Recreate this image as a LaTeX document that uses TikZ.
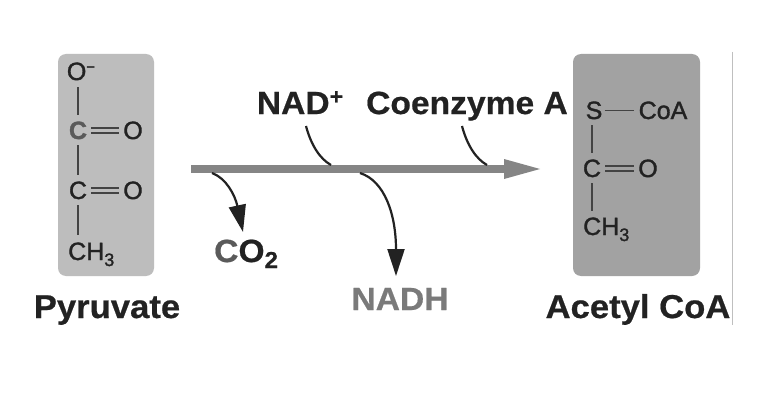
\documentclass[tikz,border=0pt]{standalone}
\usepackage{fontspec}
\setmainfont{Liberation Sans}
\newfontfamily\widebold[FakeStretch=1.05,FakeBold=0.6]{Liberation Sans Bold}
\newfontfamily\atomfont[FakeBold=1.4]{Liberation Sans}
\usetikzlibrary{arrows.meta}
\definecolor{ink}{HTML}{222222}
\definecolor{fadedink}{HTML}{5A5A5A}
\definecolor{lightpanel}{HTML}{BDBDBD}
\definecolor{darkpanel}{HTML}{A2A2A2}
\definecolor{flow}{HTML}{858585}
\newcommand{\lowindex}[2][18]{\raisebox{-6pt}{\fontsize{#1}{#1}\selectfont #2}}
\tikzset{
  panel/.style={fill=#1,draw=none,rounded corners=8pt},
  atom/.style={font=\atomfont\fontsize{25}{25}\selectfont,text=ink,inner xsep=4pt,inner ysep=6pt,anchor=base},
  title/.style={font=\widebold\fontsize{33}{33}\selectfont,text=ink,inner sep=0pt,anchor=base},
  reagent/.style={font=\widebold\fontsize{32}{32}\selectfont,text=ink,inner sep=0pt,anchor=base},
  bond/.style={draw=ink!85,line width=1.7pt},
  dbond/.style={draw=ink!85,line width=1.4pt,double=lightpanel,double distance=3.6pt},
  dbondd/.style={draw=ink!85,line width=1.4pt,double=darkpanel,double distance=3.6pt},
  mainflow/.style={draw=flow,line width=8pt},
  sidecurve/.style={draw=ink,line width=2.2pt},
  sidearrow/.style={draw=ink,line width=2.2pt,-{Stealth[length=27pt,width=17pt,inset=0pt]}}
}
\begin{document}
\begin{tikzpicture}[x=1pt,y=-1pt]
\useasboundingbox (0,0) rectangle (782,412);
\fill[white] (0,0) rectangle (782,412);

% substrate and product panels
\fill[panel=lightpanel] (58,54) rectangle (154,276);
\fill[panel=darkpanel] (573,54) rectangle (700,276);
\draw[draw=black!25,line width=1pt] (732,52) -- (732,325);

% pyruvate structure
\node[atom,inner ysep=7pt] (po) at (81,80) {O\raisebox{8pt}{\fontsize{15}{15}\selectfont −}};
\node[atom,text=fadedink] (pc1) at (78,139) {\textbf{C}};
\node[atom] (po1) at (133,139) {O};
\node[atom] (pc2) at (78,199) {C};
\node[atom] (po2) at (133,199) {O};
\node[atom,anchor=base west,inner sep=0pt] (pme) at (68,260) {CH\lowindex{3}};
\coordinate (pmetop) at (78,235);
\draw[bond] (po.south -| pc1.north) -- (pc1.north);
\draw[bond] (pc1.south) -- (pc2.north);
\draw[bond] (pc2.south) -- (pmetop);
\draw[dbond] (pc1.east) -- (po1.west);
\draw[dbond] (pc2.east) -- (po2.west);

% acetyl CoA structure
\node[atom,inner xsep=2pt] (as) at (594,119) {S};
\node[atom,inner sep=0pt] (acoa) at (663,119) {CoA};
\node[atom] (ac) at (592,177) {C};
\node[atom] (ao) at (648,177) {O};
\node[atom,anchor=base west,inner sep=0pt] (ame) at (583,235) {CH\lowindex{3}};
\coordinate (ametop) at (592,211);
\draw[bond] (as.east) -- ([xshift=-4pt]acoa.west |- as.east);
\draw[bond] (as.south -| ac.north) -- (ac.north);
\draw[bond] (ac.south) -- (ametop);
\draw[dbondd] (ac.east) -- (ao.west);

% compound names
\node[title] (pyr) at (107,318) {Pyruvate};
\node[title] (ace) at (638,318) {Acetyl CoA};

% reagents and products of the reaction
\node[reagent] (nad) at (300,114) {NAD\raisebox{10pt}{\fontsize{22}{22}\selectfont +}};
\node[reagent] (coe) at (467,114) {Coenzyme A};
\node[reagent,text=black!52] (nadh) at (400,310) {NADH};
\node[reagent,anchor=base west] (co2) at (214,262) {\textcolor{fadedink}{C}O\lowindex[23]{2}};

% main reaction arrow
\coordinate (start) at (191,169);
\coordinate (shaftend) at (508,169);
\coordinate (tip) at (540,169);
\coordinate (nadin) at (331,165);
\coordinate (coein) at (487,165);
\coordinate (nadout) at (360,173);
\coordinate (co2out) at (212,173);
\coordinate (nadtip) at (396,276);
\coordinate (co2tip) at (243,232);
\coordinate (nadfrom) at (306,126);
\coordinate (coefrom) at (462,126);
\draw[mainflow] (start) -- (shaftend);
\fill[flow] (504,159) -- (tip) -- (504,179) -- cycle;

% side curves joining and leaving the arrow
\draw[sidecurve] (nadfrom) .. controls (311,145) and (320,159) .. (nadin);
\draw[sidecurve] (coefrom) .. controls (467,145) and (476,159) .. (coein);
\draw[sidearrow] (nadout) .. controls (385,181) and (396,215) .. (nadtip);
\draw[sidearrow] (co2out) .. controls (226,178) and (235,195) .. (co2tip);
\end{tikzpicture}
\end{document}
